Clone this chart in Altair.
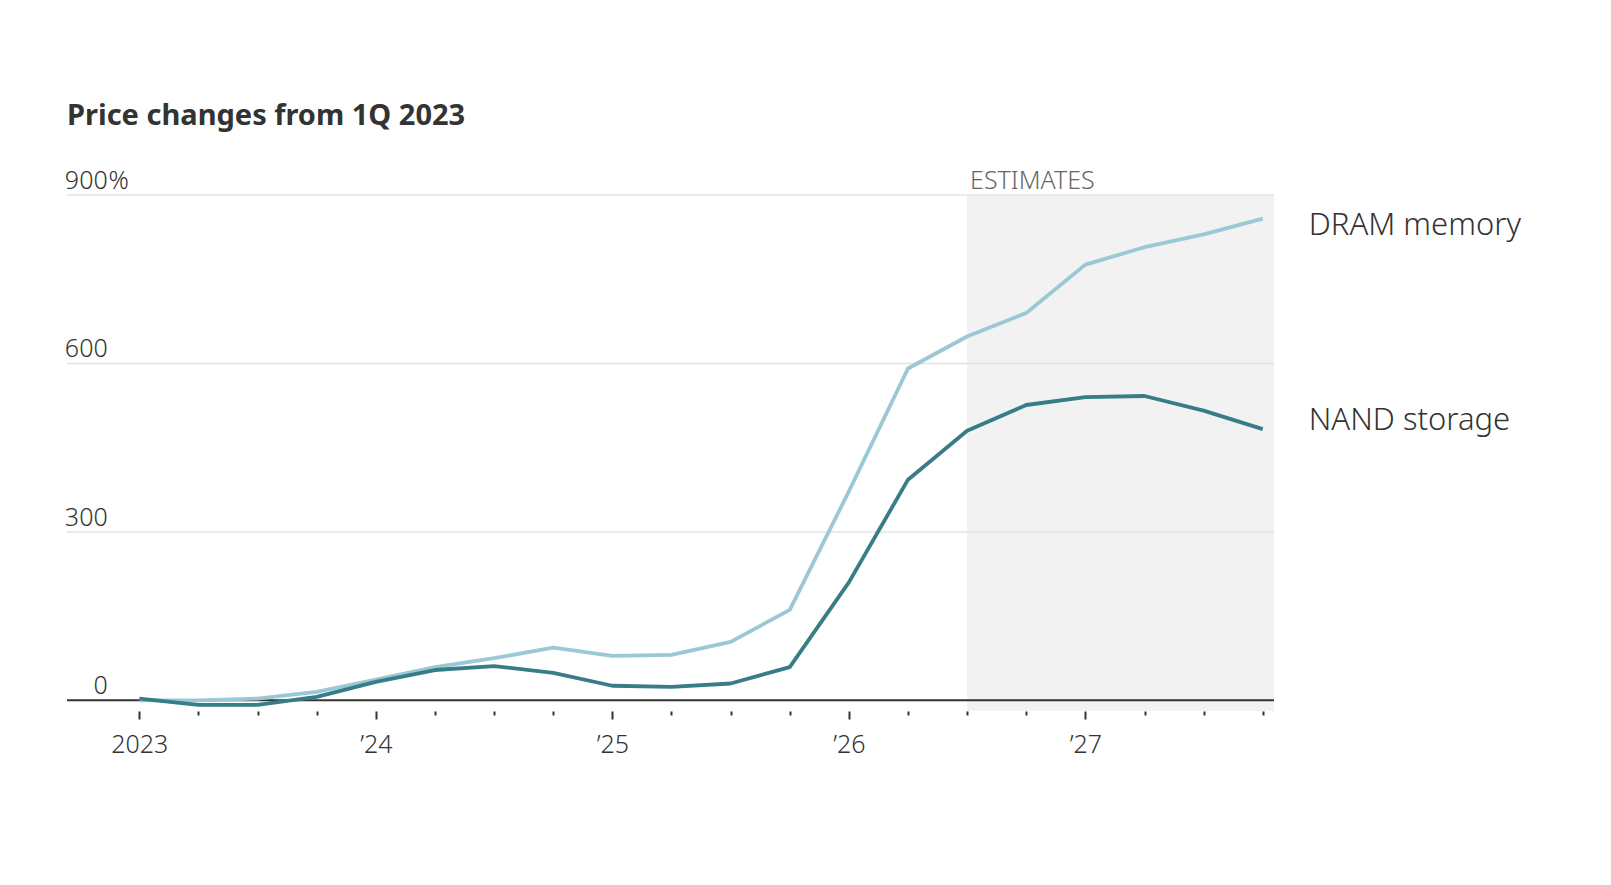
import json
import altair as alt
import pandas as pd

# ---------------- data ----------------
quarters = ["1Q23", "2Q23", "3Q23", "4Q23",
            "1Q24", "2Q24", "3Q24", "4Q24",
            "1Q25", "2Q25", "3Q25", "4Q25",
            "1Q26", "2Q26", "3Q26", "4Q26",
            "1Q27", "2Q27", "3Q27", "4Q27"]
dram = [0, 0, 3, 15, 37, 59, 75, 94, 79, 81, 104, 161, 372, 591, 648, 690, 776, 807, 830, 858]
nand = [3, -8, -8, 6, 33, 54, 61, 49, 26, 24, 30, 59, 210, 393, 480, 526, 540, 542, 516, 483]
series_names = ["DRAM memory", "NAND storage"]
series_colors = ["#9bc8d5", "#367d88"]
year_labels = ["2023", "\u201924", "\u201925", "\u201926", "\u201927"]
y_ticks = [0, 300, 600, 900]
y_tick_labels = ["0", "300", "600", "900"]
estimate_start = "3Q26"
title_text = "Price changes from 1Q 2023"

# ---------------- tables ----------------
rows = []
for i, q in enumerate(quarters):
    rows.append({"quarter": q, "t": i, "series": series_names[0], "value": dram[i]})
    rows.append({"quarter": q, "t": i, "series": series_names[1], "value": nand[i]})
df = pd.DataFrame(rows)
est_t = quarters.index(estimate_start)
yt = pd.DataFrame({"v": y_ticks, "label": y_tick_labels})

W, H = 1207, 516
FONT = "Noto Sans"
TXT = "#333333"
LW = 300  # light weight for labels

xs = alt.Scale(domain=[-1.223, 19.19], nice=False, zero=False)
ys = alt.Scale(domain=[-19, 900], nice=False, zero=False)

label_expr = ("datum.value % 4 === 0 ? " + json.dumps(year_labels, ensure_ascii=False)
              + "[datum.value / 4] : ''")
xaxis = alt.Axis(
    values=list(range(len(quarters))),
    labelExpr=label_expr,
    domain=False, grid=False, title=None,
    tickColor=TXT, tickWidth=2,
    tickSize={"condition": {"test": "datum.value % 4 === 0", "value": 8}, "value": 4},
    labelFont=FONT, labelFontSize=25, labelColor=TXT, labelFontWeight=LW,
    labelPadding=13, labelAngle=0, labelFlush=False, labelOverlap=False,
)

shade = alt.Chart(pd.DataFrame({"t": [est_t]})).mark_rect(color="#f2f2f2").encode(
    x=alt.X("t:Q", scale=xs, axis=xaxis),
    x2=alt.value(W),
    y=alt.value(0),
    y2=alt.value(H),
)

grid = alt.Chart(yt[yt.v > 0]).mark_rule(color="#e3e3e3", strokeWidth=1.5).encode(
    y=alt.Y("v:Q", scale=ys, axis=None)
)
zero = alt.Chart(yt[yt.v == 0]).mark_rule(color=TXT, strokeWidth=2).encode(
    y=alt.Y("v:Q", scale=ys, axis=None)
)

lines = alt.Chart(df).mark_line(strokeWidth=3.8, strokeJoin="round").encode(
    x=alt.X("t:Q", scale=xs, axis=xaxis),
    y=alt.Y("value:Q", scale=ys, axis=None),
    color=alt.Color("series:N", scale=alt.Scale(domain=series_names, range=series_colors), legend=None),
    order="t:Q",
)

ylabels = alt.Chart(yt).mark_text(align="right", baseline="alphabetic", dy=-6,
                                  font=FONT, fontSize=25, fontWeight=LW, color=TXT).encode(
    x=alt.value(40.7),
    y=alt.Y("v:Q", scale=ys, axis=None),
    text="label:N",
)
pct = alt.Chart(yt[yt.v == max(y_ticks)]).mark_text(align="left", baseline="alphabetic", dy=-6,
                                                   font=FONT, fontSize=25, fontWeight=LW, color=TXT).encode(
    x=alt.value(41.5),
    y=alt.Y("v:Q", scale=ys, axis=None),
    text=alt.value("%"),
)

est_label = alt.Chart(pd.DataFrame({"t": [est_t], "v": [max(y_ticks)]})).mark_text(
    align="left", baseline="alphabetic", dx=3, dy=-6,
    font=FONT, fontSize=25, fontWeight=LW, color="#666666").encode(
    x=alt.X("t:Q", scale=xs, axis=xaxis),
    y=alt.Y("v:Q", scale=ys, axis=None),
    text=alt.value("ESTIMATES"),
)

last = df[df.t == df.t.max()]
dram_label = alt.Chart(last[last.series == series_names[0]]).mark_text(
    align="left", baseline="middle", dx=46, dy=7,
    font=FONT, fontSize=31, fontWeight=LW, color=TXT).encode(
    x=alt.X("t:Q", scale=xs, axis=xaxis),
    y=alt.Y("value:Q", scale=ys, axis=None),
    text="series:N",
)
nand_label = alt.Chart(last[last.series == series_names[1]]).mark_text(
    align="left", baseline="middle", dx=46, dy=-8,
    font=FONT, fontSize=31, fontWeight=LW, color=TXT).encode(
    x=alt.X("t:Q", scale=xs, axis=xaxis),
    y=alt.Y("value:Q", scale=ys, axis=None),
    text="series:N",
)

chart = alt.layer(
    shade, grid, zero, lines, ylabels, pct, est_label, dram_label, nand_label
).properties(
    width=W, height=H,
    background="white",
    autosize=alt.AutoSizeParams(type="none"),
    padding={"left": 59, "top": 187, "right": 329, "bottom": 150},
    title=alt.TitleParams(title_text, anchor="start", frame="group", font=FONT,
                          fontSize=29, fontWeight="bold", color=TXT,
                          baseline="alphabetic", offset=15),
).configure_view(strokeWidth=0, stroke="transparent")

chart.save("out.html", embed_options={"renderer": "svg", "actions": False})
